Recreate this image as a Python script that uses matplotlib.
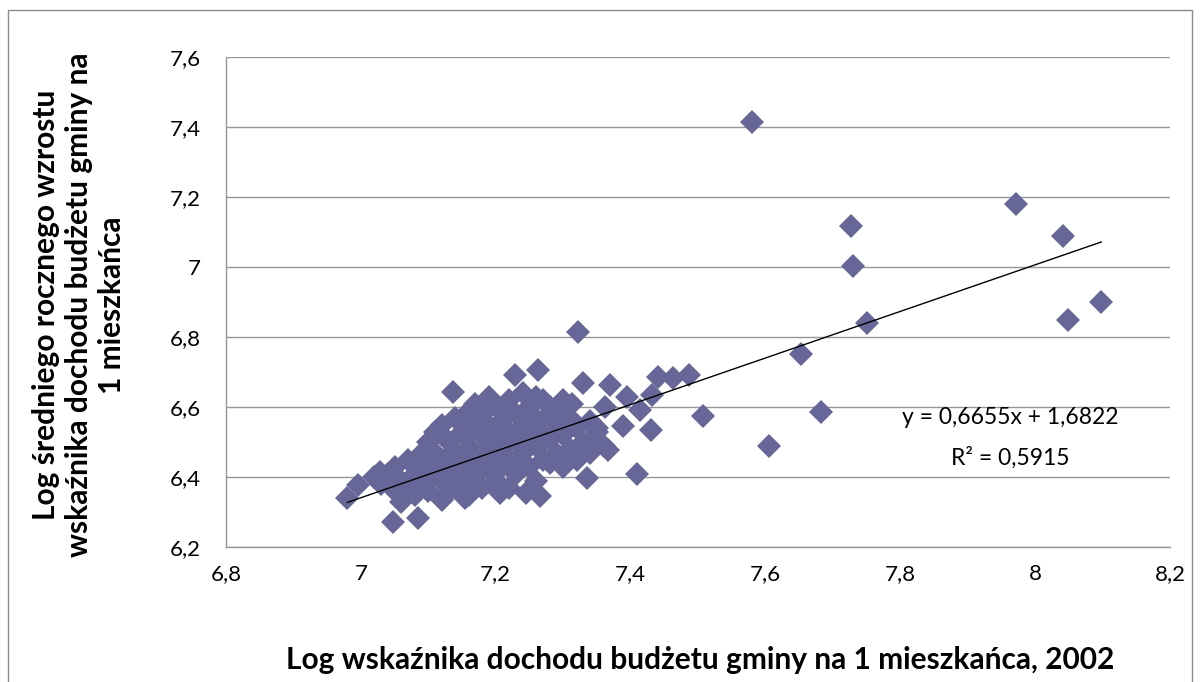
import matplotlib
matplotlib.use('Agg')
import matplotlib.pyplot as plt
from matplotlib.patches import Rectangle
from matplotlib.ticker import FuncFormatter

plt.rcParams['font.family'] = ['Lato', 'DejaVu Sans']

# Log income per inhabitant 2002 (x) vs log mean annual growth (y)
x_vals = [
    # scattered points outside the core
    6.980, 6.996, 7.048, 7.085, 7.137, 7.120, 7.155, 7.207, 7.028,
    7.322, 7.229, 7.263, 7.330, 7.370, 7.395, 7.441, 7.463, 7.486, 7.508,
    7.362, 7.414, 7.432, 7.389, 7.431, 7.367, 7.336, 7.410, 7.245, 7.266,
    7.313, 7.310, 7.340, 7.350, 7.300, 7.280,
    # high-income outliers
    7.580, 7.727, 7.730, 7.751, 7.653, 7.683, 7.606,
    7.971, 8.042, 8.098, 8.048,
    # dense core
    7.02, 7.03, 7.04, 7.05, 7.05, 7.06, 7.06, 7.07, 7.07, 7.08, 7.08,
    7.09, 7.09, 7.09, 7.10, 7.10, 7.10, 7.11, 7.11, 7.11, 7.12, 7.12,
    7.12, 7.13, 7.13, 7.13, 7.14, 7.14, 7.14, 7.15, 7.15, 7.15, 7.16,
    7.16, 7.16, 7.16, 7.17, 7.17, 7.17, 7.18, 7.18, 7.18, 7.18, 7.19,
    7.19, 7.19, 7.20, 7.20, 7.20, 7.20, 7.21, 7.21, 7.21, 7.22, 7.22,
    7.22, 7.22, 7.23, 7.23, 7.23, 7.24, 7.24, 7.24, 7.25, 7.25, 7.25,
    7.26, 7.26, 7.26, 7.27, 7.27, 7.27, 7.28, 7.28, 7.29, 7.29, 7.30,
    7.30, 7.30, 7.31, 7.31, 7.32, 7.32, 7.33, 7.34, 7.34, 7.35, 7.36,
    7.17, 7.19, 7.21, 7.15, 7.24, 7.12, 7.26, 7.28,
    7.08, 7.13, 7.19, 7.23, 7.25, 7.28, 7.21, 7.16, 7.11, 7.27,
]
y_vals = [
    6.340, 6.377, 6.271, 6.283, 6.643, 6.334, 6.340, 6.354, 6.414,
    6.814, 6.691, 6.706, 6.669, 6.663, 6.629, 6.686, 6.683, 6.691, 6.574,
    6.600, 6.591, 6.634, 6.546, 6.534, 6.477, 6.397, 6.409, 6.354, 6.346,
    6.609, 6.457, 6.497, 6.540, 6.620, 6.600,
    7.414, 7.117, 7.003, 6.840, 6.751, 6.586, 6.489,
    7.180, 7.089, 6.900, 6.849,
    6.40, 6.38, 6.41, 6.36, 6.43, 6.39, 6.33, 6.45, 6.37, 6.41, 6.35,
    6.47, 6.43, 6.38, 6.50, 6.44, 6.36, 6.41, 6.53, 6.47, 6.39, 6.55,
    6.45, 6.50, 6.42, 6.36, 6.57, 6.47, 6.40, 6.53, 6.44, 6.38, 6.59,
    6.49, 6.42, 6.35, 6.55, 6.46, 6.40, 6.52, 6.58, 6.44, 6.37, 6.49,
    6.55, 6.42, 6.60, 6.51, 6.46, 6.39, 6.56, 6.43, 6.48, 6.53, 6.62,
    6.45, 6.37, 6.58, 6.50, 6.41, 6.55, 6.47, 6.64, 6.52, 6.43, 6.60,
    6.57, 6.49, 6.39, 6.54, 6.62, 6.45, 6.51, 6.58, 6.47, 6.55, 6.60,
    6.52, 6.43, 6.57, 6.48, 6.54, 6.45, 6.50, 6.56, 6.47, 6.53, 6.49,
    6.61, 6.63, 6.59, 6.56, 6.58, 6.52, 6.63, 6.55,
    6.44, 6.46, 6.47, 6.45, 6.56, 6.44, 6.52, 6.52, 6.44, 6.50,
]

# trendline from the original chart
slope = 0.6655
intercept = 1.6822
r_squared = 0.5915

x_ticks = [6.8, 7.0, 7.2, 7.4, 7.6, 7.8, 8.0, 8.2]
y_ticks = [6.2, 6.4, 6.6, 6.8, 7.0, 7.2, 7.4, 7.6]


def pl_fmt(v, pos):
    s = f"{v:.1f}".replace('.', ',')
    if s.endswith(',0'):
        s = s[:-2]
    return s


fig = plt.figure(figsize=(12, 6.82), dpi=100)
ax = fig.add_axes([226 / 1200, 1 - 547 / 682, (1170 - 226) / 1200, (547 - 57) / 682])

ax.plot(x_vals, y_vals, linestyle='none', marker='D', markersize=12,
        color='#666699', markeredgewidth=0, zorder=3)

x_line = [min(x_vals), max(x_vals)]
y_line = [slope * v + intercept for v in x_line]
ax.plot(x_line, y_line, color='black', linewidth=1, zorder=4)

ax.set_xlim(6.8, 8.2)
ax.set_ylim(6.2, 7.6)
ax.set_xticks(x_ticks)
ax.set_yticks(y_ticks)
ax.xaxis.set_major_formatter(FuncFormatter(pl_fmt))
ax.yaxis.set_major_formatter(FuncFormatter(pl_fmt))
ax.tick_params(length=0, labelsize=16, colors='black')
ax.tick_params(axis='x', pad=12)
ax.tick_params(axis='y', pad=18)
ax.grid(axis='y', color='#969696', linewidth=1)
ax.set_axisbelow(True)
for side in ['top', 'right']:
    ax.spines[side].set_visible(False)
for side in ['left', 'bottom']:
    ax.spines[side].set_color('#969696')
    ax.spines[side].set_linewidth(1)

ax.text(1010 / 1200, 1 - 418 / 682,
        f"y = {slope:.4f}x + {intercept:.4f}".replace('.', ','),
        transform=fig.transFigure, ha='center', va='center', fontsize=16.5)
ax.text(1010 / 1200, 1 - 458 / 682,
        f"R² = {r_squared:.4f}".replace('.', ','),
        transform=fig.transFigure, ha='center', va='center', fontsize=16.5)

fig.text(700 / 1200, 1 - 660 / 682,
         'Log wskaźnika dochodu budżetu gminy na 1 mieszkańca, 2002',
         ha='center', va='center', fontsize=21.5, fontweight='bold')
fig.text(79 / 1200, 1 - 305 / 682,
         'Log średniego rocznego wzrostu\nwskaźnika dochodu budżetu gminy na\n1 mieszkańca',
         ha='center', va='center', rotation=90, fontsize=21.5, fontweight='bold',
         linespacing=1.2)

# chart frame
fig.patches.append(Rectangle((8 / 1200, -0.01), 1184 / 1200, 1 - 10 / 682 + 0.01,
                             transform=fig.transFigure, fill=False,
                             edgecolor='#8c8c8c', linewidth=1))

fig.savefig('out.png', dpi=100)
